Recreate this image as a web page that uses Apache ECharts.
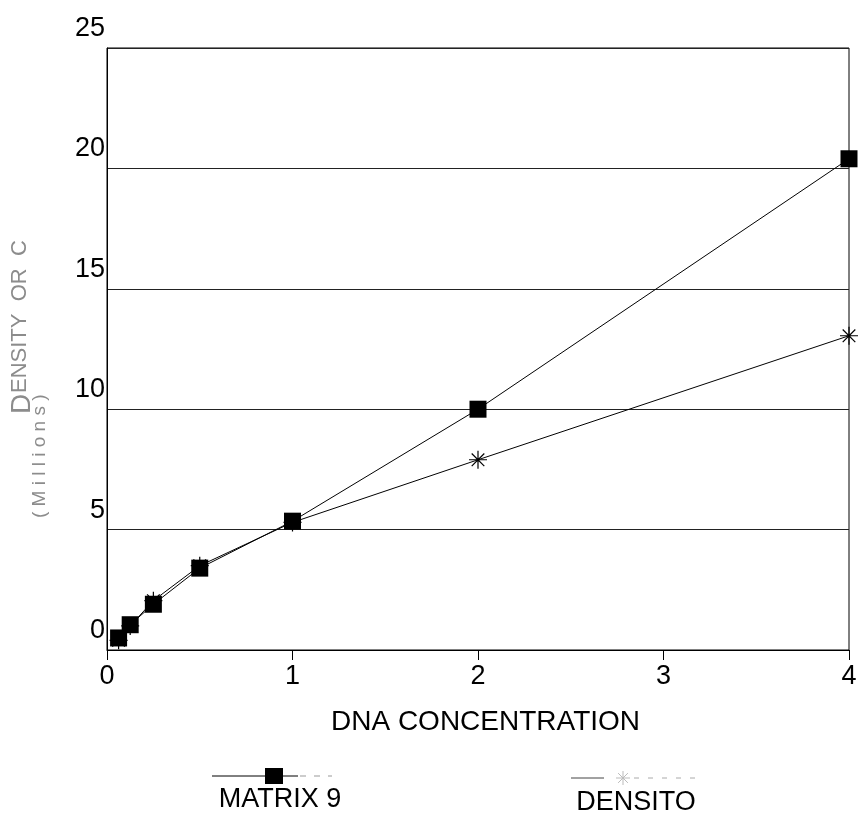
<!DOCTYPE html>
<html>
<head>
<meta charset="utf-8">
<script src="https://cdn.jsdelivr.net/npm/echarts@6/dist/echarts.min.js"></script>
<style>
  html, body { margin: 0; padding: 0; background: #fff; }
  #chart { width: 860px; height: 817px; }
</style>
</head>
<body>
<div id="chart"></div>
<script>
// DNA concentration (x) and the two measured series
const concentrations = [0.0625, 0.125, 0.25, 0.5, 1, 2, 4]
const matrix9 = [0.5, 1.05, 1.9, 3.4, 5.35, 10.0, 20.4]
const densito = [0.4, 1.0, 2.05, 3.5, 5.3, 7.9, 13.05]
const xTicks = [0, 1, 2, 3, 4]
const yTicks = [0, 5, 10, 15, 20, 25]

const FONT = "'Liberation Sans', Arial, sans-serif"
const GREY = "#8c8c8c"
const asterisk = "path://M10,0 L10,20 M0,10 L20,10 M3,3 L17,17 M17,3 L3,17"

const pairs = (ys) => concentrations.map((x, i) => [x, ys[i]])

// small faint asterisk for the legend, built from plain lines
const legendStar = (cx, cy, r) => [
  [0, -r, 0, r], [-r, 0, r, 0], [-0.7 * r, -0.7 * r, 0.7 * r, 0.7 * r], [0.7 * r, -0.7 * r, -0.7 * r, 0.7 * r],
].map(([a, b, c, d]) => ({
  type: "line",
  shape: { x1: cx + a, y1: cy + b, x2: cx + c, y2: cy + d },
  style: { stroke: "#bbb", lineWidth: 1 },
}))

const chart = echarts.init(document.getElementById("chart"))
const option = {
  backgroundColor: "#fff",
  animation: false,
  grid: {
    show: true,
    left: 107, right: 11, top: 48, bottom: 167,
    borderColor: "#000", borderWidth: 1,
    backgroundColor: "transparent",
  },
  xAxis: {
    type: "value",
    min: xTicks[0], max: xTicks[xTicks.length - 1], interval: 1,
    name: "DNA CONCENTRATION",
    nameLocation: "middle", nameGap: 58,
    nameTextStyle: { color: "#000", fontSize: 28, fontFamily: FONT, padding: [0, 0, 0, 15] },
    axisLine: { lineStyle: { color: "#000", width: 1 } },
    axisTick: { show: true, length: 10, lineStyle: { color: "#000" } },
    axisLabel: { color: "#000", fontSize: 27, fontFamily: FONT, margin: 13 },
    splitLine: { show: false },
  },
  yAxis: {
    type: "value",
    min: yTicks[0], max: yTicks[yTicks.length - 1], interval: 5,
    axisLine: { show: true, lineStyle: { color: "#000", width: 1 } },
    axisTick: { show: false },
    axisLabel: {
      color: "#000", fontSize: 27, fontFamily: FONT, margin: 2,
      verticalAlign: "bottom", padding: [0, 0, 6, 0],
    },
    splitLine: { show: true, lineStyle: { color: "#222", width: 1 } },
  },
  series: [
    {
      name: "DENSITO",
      type: "line",
      data: pairs(densito),
      symbol: asterisk,
      symbolSize: 18,
      itemStyle: { color: "none", borderColor: "#000", borderWidth: 1.2 },
      lineStyle: { color: "#000", width: 1 },
      z: 2,
    },
    {
      name: "MATRIX 9",
      type: "line",
      data: pairs(matrix9),
      symbol: "rect",
      symbolSize: 17,
      itemStyle: { color: "#000" },
      lineStyle: { color: "#000", width: 1 },
      z: 3,
    },
  ],
  graphic: [
    // y axis title, rotated
    {
      type: "text", x: 8, y: 414, rotation: Math.PI / 2,
      style: { text: "D", fontSize: 28, fontFamily: FONT, fill: GREY, textVerticalAlign: "top" },
    },
    {
      type: "text", x: 9, y: 393, rotation: Math.PI / 2,
      style: { text: "ENSITY  OR  C", fontSize: 22, fontFamily: FONT, fill: GREY, textVerticalAlign: "top" },
    },
    {
      type: "text", x: 40, y: 518, rotation: Math.PI / 2,
      style: { text: "( M i l l i o n s )", fontSize: 19, fontFamily: FONT, fill: GREY, textVerticalAlign: "middle" },
    },
    // legend: MATRIX 9
    { type: "line", shape: { x1: 212, y1: 776, x2: 298, y2: 776 }, style: { stroke: "#000", lineWidth: 1 } },
    { type: "line", shape: { x1: 300, y1: 776, x2: 332, y2: 776 }, style: { stroke: "#999", lineWidth: 1, lineDash: [6, 8] } },
    { type: "rect", shape: { x: 265, y: 768, width: 18, height: 16 }, style: { fill: "#000" } },
    {
      type: "text", x: 280, y: 800,
      style: { text: "MATRIX 9", fontSize: 27, fontFamily: FONT, fill: "#000", textAlign: "center", textVerticalAlign: "middle" },
    },
    // legend: DENSITO
    { type: "line", shape: { x1: 571, y1: 778, x2: 604, y2: 778 }, style: { stroke: "#444", lineWidth: 1 } },
    ...legendStar(623, 778, 7),
    { type: "line", shape: { x1: 634, y1: 778, x2: 697, y2: 778 }, style: { stroke: "#aaa", lineWidth: 1, lineDash: [5, 9] } },
    {
      type: "text", x: 636, y: 803,
      style: { text: "DENSITO", fontSize: 27, fontFamily: FONT, fill: "#000", textAlign: "center", textVerticalAlign: "middle" },
    },
  ],
}
chart.setOption(option)
</script>
</body>
</html>
